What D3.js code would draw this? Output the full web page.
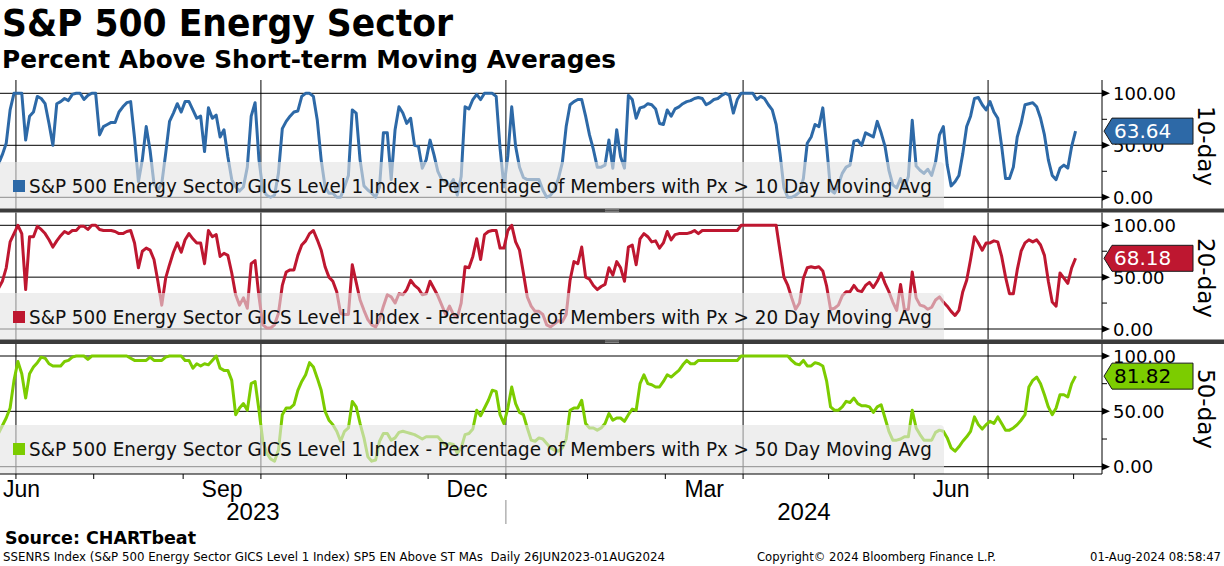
<!DOCTYPE html>
<html>
<head>
<meta charset="utf-8">
<script src="https://cdn.jsdelivr.net/npm/d3@7"></script>
<style>
  body { margin: 0; background: #fff; }
  svg { display: block; }
</style>
</head>
<body>
<svg id="chart"></svg>
<script>
const width = 1224;
const height = 566;

// ---- data ----
const startDate = "2023-06-26";
const endDate = "2024-08-01";
const holidays = ["2023-07-04", "2023-09-04", "2023-11-23", "2023-12-25", "2024-01-01",
  "2024-01-15", "2024-02-19", "2024-03-29", "2024-05-27", "2024-06-19", "2024-07-04"];

// percent of members above the 10 / 20 / 50 day moving average, one value per trading day
const pct10 = [
  32, 41, 52, 84, 100, 100, 100, 55, 78, 82,
  97, 95, 90, 71, 50, 90, 92, 95, 93, 99,
  100, 100, 94, 98, 100, 100, 60, 68, 70, 72,
  72, 82, 87, 91, 92, 57, 15, 36, 68, 45,
  13, 7, 13, 42, 73, 81, 90, 82, 92, 92,
  84, 76, 78, 44, 86, 76, 79, 58, 65, 39,
  17, 10, 6, 10, 29, 78, 91, 36, 7, 2,
  0, 2, 23, 66, 73, 78, 82, 83, 97, 100,
  100, 97, 74, 36, 10, 4, 4, 0, 0, 10,
  21, 84, 81, 36, 11, 7, 4, 0, 10, 62,
  62, 17, 65, 87, 81, 71, 76, 50, 49, 28,
  36, 55, 41, 25, 17, 15, 11, 17, 2, 20,
  87, 85, 94, 99, 94, 100, 100, 100, 97, 47,
  10, 40, 87, 49, 29, 19, 17, 17, 17, 17,
  7, 0, 2, 7, 18, 33, 68, 89, 92, 94,
  94, 78, 60, 46, 29, 29, 31, 55, 28, 65,
  39, 28, 98, 94, 76, 86, 87, 90, 89, 85,
  71, 70, 84, 78, 85, 87, 90, 92, 93, 95,
  96, 95, 89, 91, 94, 95, 98, 100, 98, 81,
  94, 100, 100, 100, 100, 94, 97, 95, 89, 84,
  70, 42, 9, 0, 0, 2, 5, 18, 52, 58,
  70, 68, 86, 49, 7, 4, 12, 23, 29, 31,
  54, 55, 50, 62, 60, 58, 73, 62, 49, 26,
  12, 9, 18, 9, 20, 74, 30, 26, 23, 27,
  21, 34, 60, 68, 31, 11, 15, 21, 42, 68,
  78, 95, 96, 89, 84, 92, 82, 76, 49, 18,
  18, 29, 58, 71, 89, 90, 91, 87, 76, 60,
  36, 21, 17, 28, 31, 28, 49, 63.64
];
const pct20 = [
  39, 46, 59, 84, 92, 100, 92, 38, 89, 89,
  99, 96, 92, 86, 79, 85, 90, 94, 92, 95,
  95, 99, 99, 96, 100, 100, 96, 95, 95, 95,
  94, 92, 92, 94, 95, 83, 59, 75, 78, 76,
  67, 46, 23, 49, 62, 74, 83, 74, 86, 92,
  87, 83, 83, 63, 95, 89, 91, 70, 73, 71,
  54, 33, 23, 30, 20, 63, 66, 31, 4, 1,
  1, 4, 15, 42, 55, 57, 57, 71, 81, 85,
  92, 95, 86, 76, 60, 50, 46, 36, 15, 14,
  14, 62, 45, 28, 18, 9, 4, 2, 9, 22,
  33, 31, 25, 34, 33, 38, 47, 42, 39, 33,
  34, 46, 39, 32, 23, 14, 22, 14, 11, 25,
  60, 59, 70, 87, 67, 91, 94, 95, 95, 78,
  78, 95, 100, 84, 76, 54, 31, 22, 17, 17,
  14, 4, 2, 5, 8, 7, 14, 47, 65, 63,
  79, 50, 48, 42, 38, 41, 43, 59, 52, 65,
  59, 46, 79, 81, 62, 87, 92, 89, 84, 85,
  78, 83, 94, 86, 91, 92, 92, 92, 93, 95,
  92, 95, 95, 95, 95, 95, 95, 95, 95, 95,
  95, 100, 100, 100, 100, 100, 100, 100, 100, 100,
  100, 75, 50, 42, 30, 19, 25, 49, 59, 60,
  59, 60, 56, 41, 19, 20, 23, 32, 36, 36,
  42, 37, 36, 42, 45, 40, 46, 54, 44, 36,
  26, 18, 43, 18, 19, 55, 30, 23, 22, 19,
  21, 28, 31, 26, 22, 17, 13, 18, 36, 47,
  67, 89, 83, 76, 83, 83, 85, 84, 70, 50,
  34, 34, 57, 75, 83, 86, 84, 86, 81, 71,
  46, 26, 22, 54, 49, 44, 59, 68.18
];
const pct50 = [
  30, 37, 44, 53, 78, 95, 84, 62, 84, 90,
  94, 99, 98, 93, 91, 91, 91, 95, 96, 99,
  100, 100, 100, 97, 100, 100, 100, 100, 100, 100,
  100, 100, 100, 100, 98, 96, 96, 96, 96, 99,
  96, 96, 96, 99, 100, 100, 100, 100, 96, 96,
  89, 93, 91, 93, 92, 96, 100, 89, 87, 87,
  78, 47, 53, 57, 51, 75, 77, 51, 23, 12,
  7, 5, 15, 47, 53, 53, 56, 69, 77, 83,
  94, 90, 80, 69, 50, 42, 38, 32, 23, 32,
  35, 59, 54, 39, 26, 9, 5, 6, 23, 30,
  30, 24, 26, 31, 32, 31, 30, 29, 27, 25,
  27, 27, 27, 27, 23, 19, 21, 20, 12, 17,
  29, 30, 34, 51, 46, 53, 60, 69, 68, 47,
  39, 53, 72, 57, 49, 47, 35, 24, 23, 26,
  25, 21, 17, 15, 14, 17, 25, 51, 53, 53,
  60, 39, 35, 35, 33, 35, 39, 48, 42, 44,
  44, 41, 47, 52, 51, 75, 83, 75, 74, 72,
  72, 77, 83, 81, 84, 87, 92, 96, 93, 93,
  96, 96, 96, 96, 96, 96, 96, 96, 96, 96,
  96, 100, 100, 100, 100, 100, 100, 100, 100, 100,
  100, 100, 100, 100, 96, 93, 92, 96, 91, 91,
  94, 93, 91, 77, 54, 51, 51, 54, 59, 58,
  62, 57, 55, 55, 54, 49, 54, 56, 44, 32,
  24, 24, 25, 27, 27, 51, 35, 29, 24, 24,
  24, 31, 33, 32, 26, 17, 14, 18, 23, 27,
  32, 45, 38, 34, 38, 41, 39, 45, 39, 33,
  33, 35, 38, 42, 47, 72, 78, 81, 75, 65,
  54, 47, 53, 65, 65, 63, 75, 81.82
];

const seriesNames = ["10-day", "20-day", "50-day"];
const legendLabels = [
  "S&P 500 Energy Sector GICS Level 1 Index - Percentage of Members with Px > 10 Day Moving Avg",
  "S&P 500 Energy Sector GICS Level 1 Index - Percentage of Members with Px > 20 Day Moving Avg",
  "S&P 500 Energy Sector GICS Level 1 Index - Percentage of Members with Px > 50 Day Moving Avg"
];
const yTicks = [0, 50, 100];
const yMinorTicks = [25, 75];
const labelMonths = [2, 5, 8, 11]; // Mar, Jun, Sep, Dec

// ---- layout ----
const plotRight = 1102;
const panels = [
  {values: pct10, color: "#2d69a7", text: "#fff", top: 80, bottom: 208.5, y0: 197.3, y100: 93.3, legendTop: 162, mid: 146},
  {values: pct20, color: "#be1730", text: "#fff", top: 212.5, bottom: 339.5, y0: 329, y100: 225.3, legendTop: 293, mid: 278},
  {values: pct50, color: "#7ccc00", text: "#000", top: 344, bottom: 474, y0: 466.7, y100: 356, legendTop: 425, mid: 409}
];

const svg = d3.select("#chart")
    .attr("width", width)
    .attr("height", height)
    .attr("viewBox", `0 0 ${width} ${height}`);

// trading-day calendar
const parseDay = d3.utcParse("%Y-%m-%d");
const fmtDay = d3.utcFormat("%Y-%m-%d");
const holidaySet = new Set(holidays);
const tradingDays = d3.utcDay.range(parseDay(startDate), d3.utcDay.offset(parseDay(endDate), 1))
    .filter(d => d.getUTCDay() % 6 !== 0 && !holidaySet.has(fmtDay(d)));

const x = d3.scaleLinear()
    .domain([0.4, 283.8])
    .range([0, plotRight]);

// month boundaries (index of first trading day of each month)
const monthStarts = [];
tradingDays.forEach((d, i) => {
    if (i > 0 && d.getUTCMonth() !== tradingDays[i - 1].getUTCMonth()) monthStarts.push(i);
});

const defs = svg.append("defs");

panels.forEach((p, k) => {
    const y = d3.scaleLinear().domain([0, 100]).range([p.y0, p.y100]);
    const g = svg.append("g");

    defs.append("clipPath").attr("id", "clip" + k)
        .append("rect")
        .attr("x", 0).attr("y", p.top)
        .attr("width", plotRight).attr("height", p.bottom - p.top);

    // horizontal grid
    g.selectAll(".hgrid").data(yTicks).join("line")
        .attr("x1", 0).attr("x2", plotRight)
        .attr("y1", d => y(d)).attr("y2", d => y(d))
        .attr("stroke", "#000").attr("stroke-width", 1);

    // vertical grid at quarter starts
    g.selectAll(".vgrid")
        .data(monthStarts.filter(i => tradingDays[i].getUTCMonth() % 3 === 0))
        .join("line")
        .attr("x1", i => x(i - 0.5)).attr("x2", i => x(i - 0.5))
        .attr("y1", p.top).attr("y2", p.bottom)
        .attr("stroke", "#000").attr("stroke-width", 1);

    // series line
    const line = d3.line()
        .x((d, i) => x(i))
        .y(d => y(d));

    g.append("path")
        .datum(p.values.slice(0, tradingDays.length))
        .attr("clip-path", `url(#clip${k})`)
        .attr("d", line)
        .attr("fill", "none")
        .attr("stroke", p.color)
        .attr("stroke-width", 3)
        .attr("stroke-linejoin", "round");

    // legend band
    g.append("path")
        .attr("d", `M0,${p.legendTop} H940 Q944,${p.legendTop} 944,${p.legendTop + 4} V${p.bottom} H0 Z`)
        .attr("fill", "#e4e4e4")
        .attr("fill-opacity", 0.62);

    g.append("rect")
        .attr("x", 13).attr("y", p.legendTop + 18)
        .attr("width", 12).attr("height", 12)
        .attr("fill", p.color);

    g.append("text")
        .attr("x", 29).attr("y", p.legendTop + 31)
        .attr("font-family", "DejaVu Sans Condensed, DejaVu Sans, sans-serif")
        .attr("font-size", 19.5)
        .attr("textLength", 903)
        .attr("lengthAdjust", "spacingAndGlyphs")
        .attr("fill", "#111")
        .text(legendLabels[k]);

    // right axis
    g.append("line")
        .attr("x1", plotRight).attr("x2", plotRight)
        .attr("y1", p.top).attr("y2", p.bottom)
        .attr("stroke", "#000");

    g.selectAll(".tri").data(yTicks).join("path")
        .attr("d", d => `M${plotRight},${y(d) - 3.5} L${plotRight + 8},${y(d)} L${plotRight},${y(d) + 3.5} Z`)
        .attr("fill", "#000");

    g.selectAll(".minor").data(yMinorTicks).join("line")
        .attr("x1", plotRight).attr("x2", plotRight + 5)
        .attr("y1", d => y(d)).attr("y2", d => y(d))
        .attr("stroke", "#000");

    g.selectAll(".ylab").data(yTicks).join("text")
        .attr("x", plotRight + 11)
        .attr("y", d => y(d) + 6.5)
        .attr("font-family", "DejaVu Sans, sans-serif")
        .attr("font-size", 18)
        .attr("fill", "#000")
        .text(d => d3.format(".2f")(d));

    // last value tag (drawn over the tick labels, as in the source)
    const last = p.values[tradingDays.length - 1];
    const yc = y(last);
    g.append("path")
        .attr("d", `M${plotRight + 2},${yc} L${plotRight + 10},${yc - 13} H1193 V${yc + 13} H${plotRight + 10} Z`)
        .attr("fill", p.color)
        .attr("stroke", "#1a1a1a")
        .attr("stroke-width", 1);

    g.append("text")
        .attr("x", plotRight + 12)
        .attr("y", yc + 7)
        .attr("font-family", "DejaVu Sans, sans-serif")
        .attr("font-size", 20)
        .attr("fill", p.text)
        .text(d3.format(".2f")(last));

    // series title
    g.append("text")
        .attr("transform", `translate(1198,${p.mid}) rotate(90)`)
        .attr("text-anchor", "middle")
        .attr("font-family", "DejaVu Sans, sans-serif")
        .attr("font-size", 23)
        .attr("fill", "#000")
        .text(seriesNames[k]);
});

// panel separators
[[208.5, 212.5], [339.5, 344]].forEach(([a, b]) => {
    svg.append("rect")
        .attr("x", 0).attr("y", a)
        .attr("width", width).attr("height", b - a)
        .attr("fill", "#3c3c3c");
    [-0.8, 0.8].forEach(o => {
        svg.append("line")
            .attr("x1", 605).attr("x2", 619)
            .attr("y1", (a + b) / 2 + o).attr("y2", (a + b) / 2 + o)
            .attr("stroke", "#9a9a9a").attr("stroke-width", 0.8);
    });
});

// bottom time axis
const axisY = 474;
svg.append("line")
    .attr("x1", 0).attr("x2", plotRight)
    .attr("y1", axisY).attr("y2", axisY)
    .attr("stroke", "#000");

svg.selectAll(".mtick").data(monthStarts).join("line")
    .attr("x1", i => x(i - 0.5)).attr("x2", i => x(i - 0.5))
    .attr("y1", axisY).attr("y2", axisY + 5)
    .attr("stroke", "#000");

const narrow = "Liberation Sans Narrow, Arial Narrow, sans-serif";
const monthBounds = [0].concat(monthStarts, [tradingDays.length]);
const fmtMonth = d3.utcFormat("%b");
for (let m = 0; m < monthBounds.length - 1; m++) {
    const d = tradingDays[monthBounds[m]];
    if (!labelMonths.includes(d.getUTCMonth())) continue;
    const a = m === 0 ? x.domain()[0] : monthBounds[m] - 0.5;
    const b = monthBounds[m + 1] - 0.5;
    const cx = (x(a) + x(b)) / 2;
    const t = svg.append("text")
        .attr("y", 497)
        .attr("font-family", narrow)
        .attr("font-size", 23)
        .attr("fill", "#000")
        .text(fmtMonth(d));
    if (m === 0) t.attr("x", 3);
    else t.attr("x", cx).attr("text-anchor", "middle");
}

// years
const yearStart = monthStarts.find(i => tradingDays[i].getUTCFullYear() === 2024);
const yearSplit = x(yearStart - 0.5);
svg.append("line")
    .attr("x1", yearSplit).attr("x2", yearSplit)
    .attr("y1", 500).attr("y2", 524)
    .attr("stroke", "#8c8c8c");
[["2023", 0, yearSplit], ["2024", yearSplit, plotRight]].forEach(([yr, a, b]) => {
    svg.append("text")
        .attr("x", (a + b) / 2).attr("y", 520)
        .attr("text-anchor", "middle")
        .attr("font-family", narrow)
        .attr("font-size", 24)
        .attr("fill", "#000")
        .text(yr);
});

// titles
svg.append("text")
    .attr("x", 2).attr("y", 36)
    .attr("font-family", "DejaVu Sans Condensed, DejaVu Sans, sans-serif")
    .attr("font-weight", "bold")
    .attr("font-size", 37)
    .attr("textLength", 451)
    .attr("lengthAdjust", "spacingAndGlyphs")
    .text("S&P 500 Energy Sector");

svg.append("text")
    .attr("x", 2).attr("y", 68)
    .attr("font-family", "DejaVu Sans Condensed, DejaVu Sans, sans-serif")
    .attr("font-weight", "bold")
    .attr("font-size", 25)
    .attr("textLength", 614)
    .attr("lengthAdjust", "spacingAndGlyphs")
    .text("Percent Above Short-term Moving Averages");

// footer
svg.append("text")
    .attr("x", 5).attr("y", 544)
    .attr("font-family", "DejaVu Sans Condensed, DejaVu Sans, sans-serif")
    .attr("font-weight", "bold")
    .attr("font-size", 18)
    .attr("textLength", 191)
    .attr("lengthAdjust", "spacingAndGlyphs")
    .text("Source: CHARTbeat");

const footer = [
    ["SSENRS Index (S&P 500 Energy Sector GICS Level 1 Index) SP5 EN Above ST MAs  Daily 26JUN2023-01AUG2024", 3, 662],
    ["Copyright\u00A9 2024 Bloomberg Finance L.P.", 757, 239],
    ["01-Aug-2024 08:58:47", 1090, 131]
];
footer.forEach(([t, fx, len]) => {
    svg.append("text")
        .attr("x", fx).attr("y", 561)
        .attr("font-family", "DejaVu Sans Condensed, DejaVu Sans, sans-serif")
        .attr("font-size", 12)
        .attr("textLength", len)
        .attr("lengthAdjust", "spacingAndGlyphs")
        .attr("xml:space", "preserve")
        .attr("fill", "#000")
        .text(t);
});
</script>
</body>
</html>
